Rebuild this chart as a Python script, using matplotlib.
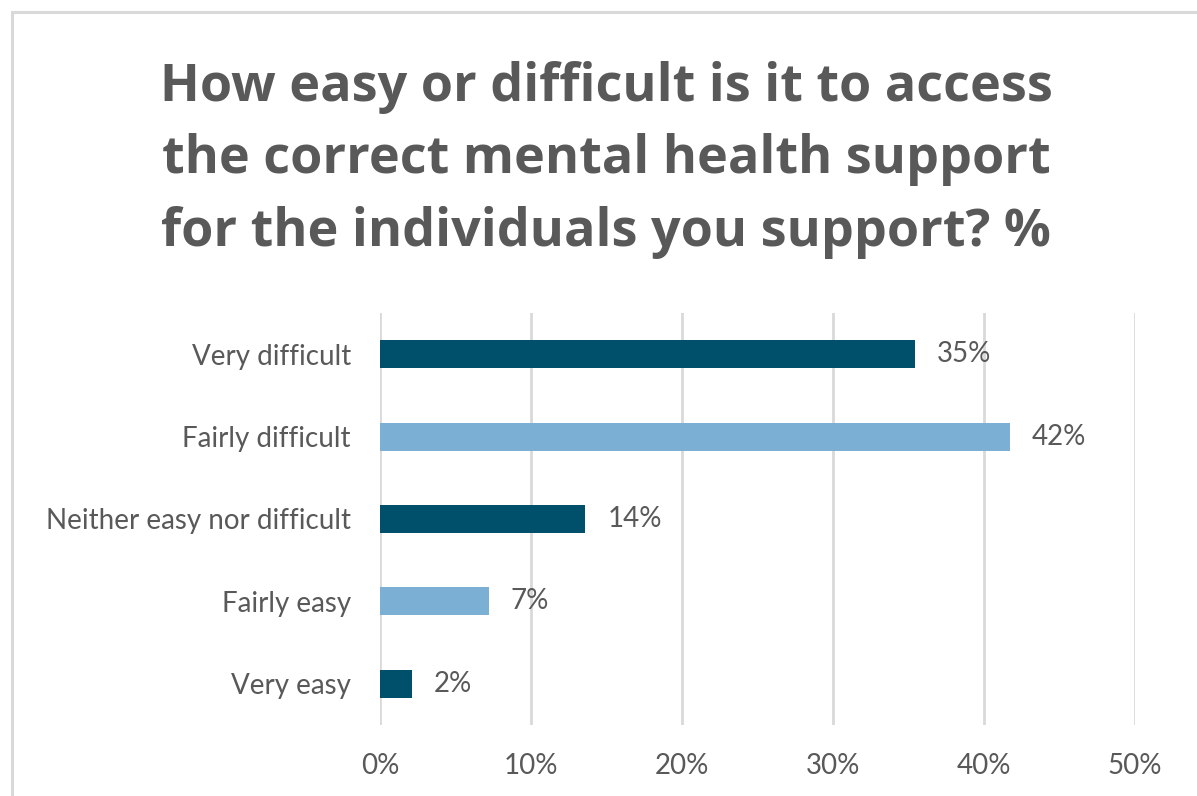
import matplotlib
matplotlib.use("Agg")
import matplotlib.pyplot as plt
from matplotlib.patches import Rectangle
from matplotlib.ticker import FuncFormatter

categories = ["Very difficult", "Fairly difficult", "Neither easy nor difficult",
              "Fairly easy", "Very easy"]
shares = [35.4, 41.7, 13.6, 7.2, 2.1]
bar_colors = ["#004F6B", "#7BAFD4", "#004F6B", "#7BAFD4", "#004F6B"]
title = ("How easy or difficult is it to access\n"
         "the correct mental health support\n"
         "for the individuals you support? %")

grey = "#595959"
W, H = 1197, 796

fig = plt.figure(figsize=(W / 100, H / 100), dpi=100)
fig.patch.set_facecolor("white")

# chart frame
fig.patches.append(Rectangle((11.5 / W, -0.05), 1.2, 1 - 12.5 / H + 0.05,
                             transform=fig.transFigure, fill=False,
                             edgecolor="#D9D9D9", linewidth=2.2))

ax = fig.add_axes([380 / W, 1 - 725 / H, (1135 - 380) / W, (725 - 313) / H])

ypos = list(range(len(categories)))
bars = ax.barh(ypos, shares, height=0.34, color=bar_colors, zorder=3)
for b, v in zip(bars, shares):
    ax.text(b.get_width() + 1.45, b.get_y() + b.get_height() / 2,
            f"{v:.0f}%", va="center", ha="left", fontsize=20,
            family="Lato", color=grey)

ax.set_xlim(0, 50)
ax.set_ylim(len(categories) - 0.5, -0.5)
ax.set_xticks(range(0, 51, 10))
ax.xaxis.set_major_formatter(FuncFormatter(lambda x, p: f"{x:.0f}%"))
ax.set_yticks(ypos)
ax.set_yticklabels(categories)
ax.grid(axis="x", color="#D9D9D9", linewidth=2, zorder=0)
for s in ax.spines.values():
    s.set_visible(False)
ax.tick_params(length=0, labelsize=20, labelcolor=grey)
ax.tick_params(axis="y", pad=21)
ax.tick_params(axis="x", pad=20)
for lab in ax.get_xticklabels() + ax.get_yticklabels():
    lab.set_family("Lato")

fig.text(606 / W, 1 - 160 / H, title, ha="center", va="center",
         fontsize=37.5, fontweight="bold", family="Open Sans", color=grey,
         linespacing=1.48)

fig.savefig("out.png", dpi=100)
